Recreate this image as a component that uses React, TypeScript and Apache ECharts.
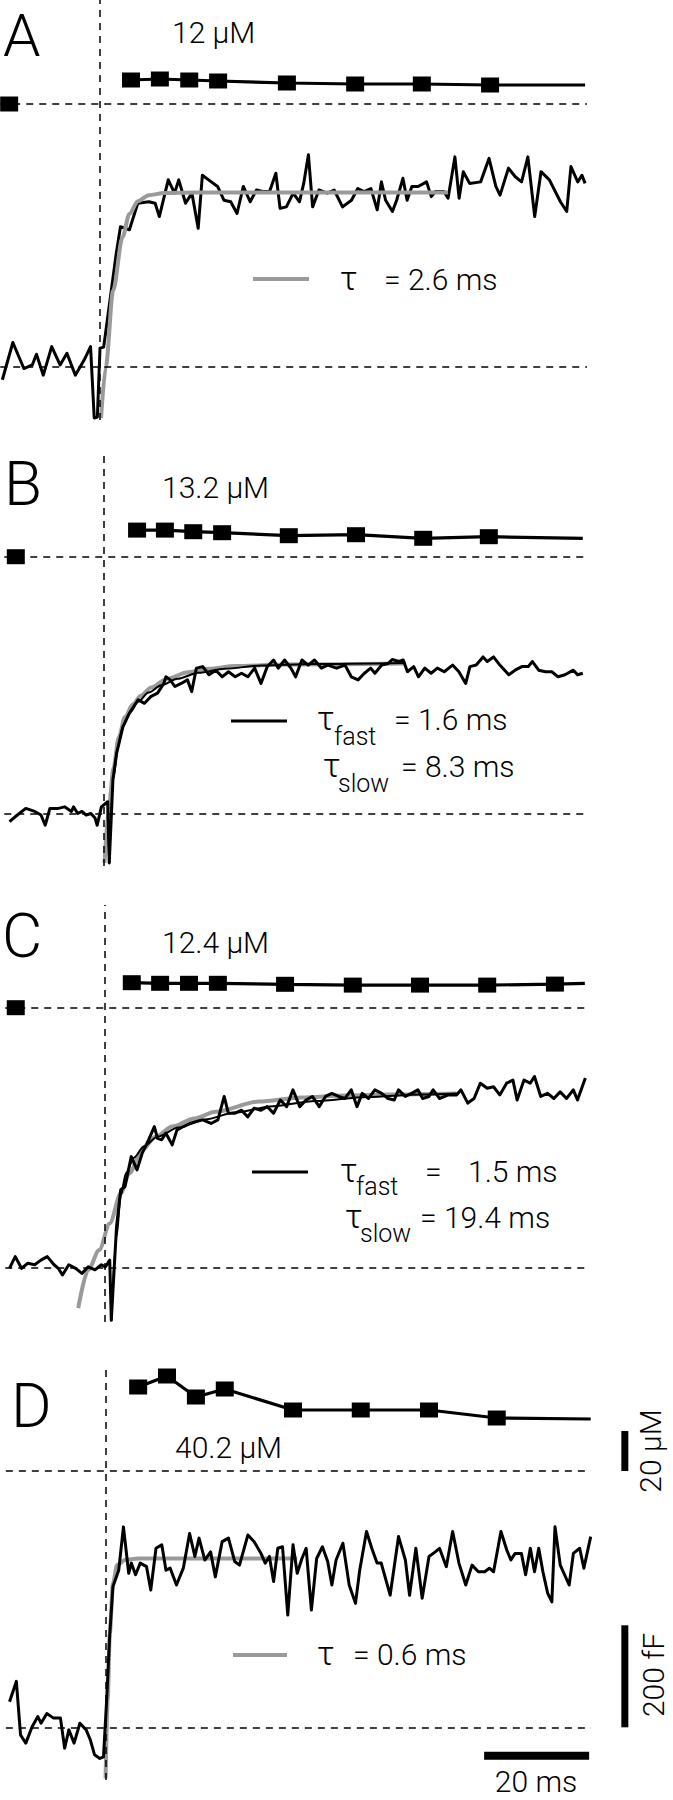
import { useEffect, useRef } from "react";
import * as echarts from "echarts";

const FONT = "Roboto, 'Liberation Sans', Arial, sans-serif";

// ---------- DATA (time in ms from stimulus, Ca in µM, Cm in fF) ----------
// Calcium samples (last entry = end of line, no marker)
const A_CA_T = [5.9, 11.4, 17.0, 22.5, 35.6, 48.6, 61.3, 74.3, 92.4];
const A_CA_V = [12, 12.5, 12, 11.5, 10.5, 10, 10, 9.5, 9.5];
const B_CA_T = [6.3, 11.6, 17.0, 22.5, 35.2, 48.0, 60.8, 73.3, 91.2];
const B_CA_V = [13.3, 13.3, 12.5, 12, 10.5, 11, 9.2, 10, 9.2];
const C_CA_T = [5.1, 10.5, 16.0, 21.5, 34.3, 47.2, 60.0, 72.8, 85.7, 91.4];
const C_CA_V = [12.5, 12.2, 12.2, 12.2, 11.7, 11.3, 11.3, 11.3, 11.8, 12.2];
const D_CA_T = [6.2, 11.7, 17.2, 22.7, 35.7, 48.6, 61.6, 74.5, 92.4];
const D_CA_V = [42, 47.5, 37, 41, 30.5, 30.5, 30.5, 26.5, 26];
// Pre-stimulus calcium sample [t, µM]
const A_CA_PRE = [-17.3, 0];
const B_CA_PRE = [-16.8, 0];
const C_CA_PRE = [-17.0, 0];

// Capacitance traces [t, fF]
const A_CM = [[-18.6,-25],[-16.6,48],[-14.5,-3],[-12.9,4],[-12.1,25],[-10.8,-16],[-9.2,40],[-7.6,4],[-6.3,27],[-4.7,-16],[-3.0,14],[-1.8,40],[-1.1,-100],[-0.5,-98],[0,37],[0.7,39],[1.9,131],[3.1,223],[3.9,275],[5.6,269],[7.2,321],[9.3,324],[10.5,321],[11.3,295],[13.0,367],[14.2,341],[15.0,367],[16.3,321],[17.5,341],[18.7,272],[19.5,376],[21.2,363],[22.4,354],[23.6,327],[24.9,324],[26.1,301],[27.3,354],[28.6,324],[29.8,347],[31.0,344],[32.3,344],[33.5,380],[34.3,311],[35.5,314],[36.8,341],[38.0,324],[38.8,360],[39.7,416],[40.5,314],[41.7,347],[43.3,341],[44.6,347],[46.2,314],[47.9,327],[49.1,350],[50.3,344],[51.6,350],[52.8,308],[53.6,363],[54.4,327],[55.7,305],[56.5,327],[57.7,370],[58.5,327],[59.4,354],[60.6,354],[62.2,363],[63.1,334],[63.9,344],[65.5,344],[66.3,331],[67.6,412],[68.4,331],[69.2,383],[70.4,360],[72.5,363],[74.1,409],[75.4,354],[76.2,337],[77.8,390],[79.1,373],[80.3,363],[81.5,412],[82.8,295],[84.0,383],[85.6,367],[87.7,324],[88.9,305],[89.7,393],[91.0,363],[91.8,376],[92.4,360]];
const B_CM = [[-18.0,-15],[-16.5,-2],[-14.9,11],[-13.2,5],[-12.0,-2],[-11.2,-22],[-10.3,11],[-8.7,11],[-7.5,14],[-6.2,5],[-5.8,14],[-5.0,1],[-4.2,5],[-3.4,-2],[-2.5,1],[-1.7,-8],[-1.3,-22],[-0.5,14],[0.7,24],[1.0,-96],[1.7,67],[2.4,119],[3.6,171],[4.8,197],[6.5,224],[7.7,217],[8.9,230],[10.2,237],[11.4,256],[11.8,269],[12.6,263],[13.5,250],[14.7,256],[15.9,263],[16.7,240],[17.6,286],[18.8,289],[20.0,273],[21.3,282],[22.5,269],[23.7,279],[25.0,269],[26.2,276],[27.4,269],[28.7,286],[29.9,256],[31.1,289],[32.3,302],[33.2,286],[34.4,302],[35.6,286],[36.5,269],[37.7,302],[38.9,292],[40.1,302],[41.4,286],[42.6,292],[44.3,286],[45.9,292],[47.1,269],[48.4,263],[49.6,276],[50.8,286],[51.6,276],[52.9,292],[54.1,295],[54.9,303],[56.2,299],[57.0,302],[57.8,279],[59.0,289],[59.9,269],[61.1,286],[62.3,276],[63.5,286],[64.8,279],[66.4,292],[67.6,279],[68.9,256],[69.7,289],[70.9,292],[72.2,308],[73.0,299],[74.2,308],[75.4,292],[77.1,273],[78.3,282],[79.6,289],[80.8,289],[81.6,299],[82.8,282],[84.1,279],[85.3,279],[86.5,269],[87.8,273],[89.4,282],[90.2,273],[91.2,276]];
const C_CM = [[-18.2,-2],[-17.1,21],[-15.9,-2],[-14.7,8],[-13.4,5],[-12.2,14],[-11.0,21],[-9.7,5],[-8.9,-2],[-8.1,-15],[-6.9,5],[-5.6,-2],[-4.4,-12],[-3.2,1],[-1.9,-5],[-0.7,5],[0.1,1],[0.9,14],[1.2,-104],[2.2,80],[3.0,152],[3.8,158],[5.0,217],[6.1,191],[7.1,224],[8.3,250],[9.4,276],[10.0,253],[10.8,250],[11.6,263],[12.8,240],[13.7,269],[14.9,276],[16.1,282],[17.4,286],[18.6,289],[20.2,282],[21.5,289],[22.7,335],[23.5,302],[24.7,302],[26.0,308],[27.2,295],[28.4,312],[29.7,308],[30.9,315],[32.1,302],[33.4,328],[34.6,315],[35.8,348],[37.1,315],[38.3,328],[39.5,335],[40.8,315],[42.0,335],[43.2,341],[44.5,335],[45.7,331],[46.9,348],[48.0,315],[49.0,341],[50.2,331],[51.4,348],[52.7,341],[53.9,331],[55.1,328],[55.9,348],[57.2,335],[58.4,341],[59.6,348],[60.5,331],[61.7,335],[62.5,348],[63.7,331],[65.4,338],[67.0,338],[67.8,348],[69.1,322],[70.3,331],[71.5,361],[72.8,351],[74.0,354],[75.2,338],[76.5,361],[77.7,367],[78.5,328],[79.8,367],[81.0,361],[81.8,374],[83.0,335],[84.3,341],[85.5,331],[86.7,344],[87.9,331],[89.2,348],[90.0,328],[91.5,371]];
const D_CM = [[-18.3,50],[-17.0,90],[-16.2,-15],[-15.2,-31],[-14.0,1],[-12.9,21],[-12.3,8],[-11.2,27],[-9.9,18],[-8.6,18],[-7.8,-41],[-7.0,-5],[-6.0,-31],[-4.9,8],[-3.7,-5],[-2.9,-25],[-2.1,-54],[-1.1,-61],[-0.4,-58],[0.2,54],[0.8,184],[1.4,276],[2.5,308],[3.4,393],[4.4,302],[4.9,322],[5.7,299],[6.6,322],[7.8,315],[8.6,269],[9.6,351],[10.7,358],[11.5,308],[12.3,312],[13.5,279],[14.8,312],[16.0,380],[17.0,335],[17.8,371],[18.9,328],[20.0,344],[20.9,295],[22.2,364],[23.4,371],[24.6,325],[25.5,318],[27.1,377],[28.3,364],[29.6,341],[30.4,322],[31.2,335],[32.0,286],[32.8,351],[33.7,354],[34.7,220],[35.7,358],[36.5,302],[37.4,331],[38.2,351],[39.2,230],[40.2,331],[41.3,354],[42.3,325],[43.1,279],[43.9,328],[45.2,361],[46.4,279],[47.6,243],[48.4,308],[49.7,384],[50.7,351],[51.7,322],[52.5,322],[54.2,259],[55.8,374],[57.1,328],[57.9,259],[59.1,351],[60.3,253],[61.6,335],[62.8,344],[63.6,351],[64.9,315],[66.1,384],[67.3,322],[68.6,279],[69.8,318],[71.0,305],[72.2,305],[73.1,312],[73.9,305],[75.3,384],[76.4,348],[77.2,328],[78.0,341],[79.2,341],[80.0,299],[80.9,351],[81.7,305],[82.5,351],[83.3,305],[84.2,263],[85.0,246],[85.6,393],[86.6,318],[88.3,279],[89.1,341],[90.3,351],[91.1,312],[92.4,374]];

// Exponential fits [t, fF]
const A_FIT_GRAY = [[0.2,-100],[1.1,0],[2.5,150],[4.3,255],[5.6,300],[7.2,325],[9.3,337],[12.2,341],[18,342],[66.3,342]];
const B_FIT_GRAY = [[0.1,-96],[1.0,20],[1.8,90],[2.8,150],[4,190],[5.5,215],[7,232],[9,248],[12,265],[16,278],[20,285],[25,290],[35,293],[57.4,295]];
const B_FIT_BLACK = [[1.0,-96],[1.8,70],[2.6,130],[3.6,172],[5,200],[6.5,220],[8.5,238],[11,253],[14,265],[18,277],[23,285],[30,291],[40,294],[57.4,296]];
const C_FIT_GRAY = [[-5.1,-80],[-3.2,-5],[-1.1,34],[0.9,86],[3.0,145],[4.6,184],[7.1,230],[9.6,256],[12.8,276],[17.0,292],[21.1,305],[29.3,325],[37.5,333],[45.7,337],[53.9,339],[67.0,341]];
const C_FIT_BLACK = [[1.2,-104],[2.2,60],[3,140],[4,185],[5.5,215],[7.5,238],[10,256],[14,274],[19,290],[25,304],[32,316],[40,326],[50,334],[60,339],[67,341]];
const D_FIT_GRAY = [[0,-100],[0.4,54],[0.8,184],[1.4,282],[2.2,318],[3.7,328],[6.2,331],[36.5,331]];

// Scale bars (drawn in panel D's scales)
const BAR_TIME_MS = [72.1, 92.1];
const BAR_TIME_LEVEL_FF = -56;
const BAR_CM_FF = [0, 200];
const BAR_CA_UM = [0, 20];
const BAR_X_MS = 98.9;

const LABELS = ["A", "B", "C", "D"];
const CONC = ["12 µM", "13.2 µM", "12.4 µM", "40.2 µM"];

// ---------- LAYOUT ----------
const PX_PER_MS = 5.25;
const PX_PER_UM = 2;
const PX_PER_FF = 0.51;
const X_MIN = -19;
const LAYOUT = [
  { xStim: 100, top: 0, bottom: 420, caBase: 104, cmBase: 367, xRight: 587 },
  { xStim: 104, top: 450, bottom: 866, caBase: 556.7, cmBase: 814, xRight: 584 },
  { xStim: 105, top: 905, bottom: 1322, caBase: 1007.7, cmBase: 1267.3, xRight: 586 },
  { xStim: 105.6, top: 1368, bottom: 1780, caBase: 1471, cmBase: 1727.3, xRight: 591 },
  // extra grid sharing panel D's scales, wide enough for the scale bars
  { xStim: 105.6, top: 1368, bottom: 1780, caBase: 1471, cmBase: 1727.3, xRight: 673 },
];

const PANELS = [
  { caT: A_CA_T, caV: A_CA_V, pre: A_CA_PRE, cm: A_CM, gray: A_FIT_GRAY, black: null, grayTop: true },
  { caT: B_CA_T, caV: B_CA_V, pre: B_CA_PRE, cm: B_CM, gray: B_FIT_GRAY, black: B_FIT_BLACK, grayTop: false },
  { caT: C_CA_T, caV: C_CA_V, pre: C_CA_PRE, cm: C_CM, gray: C_FIT_GRAY, black: C_FIT_BLACK, grayTop: false },
  { caT: D_CA_T, caV: D_CA_V, pre: null, cm: D_CM, gray: D_FIT_GRAY, black: null, grayTop: false },
];

const DASH = { type: [7, 6] as any, width: 1.5, color: "#000" };

function txt(x: number, baseline: number, text: string, fs: number, extra: any = {}) {
  const align = extra.align || "left";
  return {
    type: "text",
    x,
    y: baseline - 0.34 * fs,
    silent: true,
    z: 20,
    style: {
      text,
      fill: "#000",
      fontSize: fs,
      fontFamily: FONT,
      fontWeight: extra.weight || 300,
      textAlign: align,
      align,
      textVerticalAlign: "middle",
      verticalAlign: "middle",
    },
  };
}
function rtxt(cx: number, cy: number, text: string, fs: number) {
  return {
    type: "text",
    x: cx,
    y: cy,
    rotation: Math.PI / 2,
    silent: true,
    z: 20,
    style: {
      text,
      fill: "#000",
      fontSize: fs,
      fontFamily: FONT,
      fontWeight: 300,
      textAlign: "center",
      align: "center",
      textVerticalAlign: "middle",
      verticalAlign: "middle",
    },
  };
}
function legLine(x1: number, x2: number, y: number, color: string, w: number) {
  return { type: "line", silent: true, z: 20, shape: { x1, y1: y, x2, y2: y }, style: { stroke: color, lineWidth: w } };
}

export default function App() {
  const ref = useRef<HTMLDivElement>(null);
  useEffect(() => {
    const chart = echarts.init(ref.current!, null, { renderer: "svg" });
    const grid: any[] = [];
    const xAxis: any[] = [];
    const yAxis: any[] = [];
    const series: any[] = [];

    LAYOUT.forEach((L, i) => {
      const left = L.xStim + X_MIN * PX_PER_MS;
      grid.push({ left, top: L.top, width: L.xRight - left, height: L.bottom - L.top, containLabel: false });
      xAxis.push({ type: "value", gridIndex: i, min: X_MIN, max: (L.xRight - L.xStim) / PX_PER_MS, show: false });
      yAxis.push({ type: "value", gridIndex: i, min: (L.caBase - L.bottom) / PX_PER_UM, max: (L.caBase - L.top) / PX_PER_UM, show: false });
      yAxis.push({ type: "value", gridIndex: i, min: (L.cmBase - L.bottom) / PX_PER_FF, max: (L.cmBase - L.top) / PX_PER_FF, show: false });

      const P = PANELS[i];
      if (!P) return;
      const last = P.caT.length - 1;
      series.push({
        type: "line",
        xAxisIndex: i,
        yAxisIndex: 2 * i,
        z: 5,
        symbol: "rect",
        symbolSize: [18, 15],
        showSymbol: true,
        lineStyle: { color: "#000", width: 3.2 },
        itemStyle: { color: "#000", opacity: 1 },
        data: P.caT.map((t, k) => (k === last ? { value: [t, P.caV[k]], symbol: "none" } : [t, P.caV[k]])),
        markLine: {
          silent: true,
          symbol: ["none", "none"],
          label: { show: false },
          lineStyle: DASH,
          data: [{ yAxis: 0 }, { xAxis: 0 }],
        },
      });
      if (P.pre) {
        series.push({
          type: "scatter",
          xAxisIndex: i,
          yAxisIndex: 2 * i,
          z: 6,
          symbol: "rect",
          symbolSize: [18, 15],
          itemStyle: { color: "#000", opacity: 1 },
          data: [P.pre],
        });
      }
      series.push({
        type: "line",
        xAxisIndex: i,
        yAxisIndex: 2 * i + 1,
        z: 3,
        symbol: "none",
        showSymbol: false,
        lineStyle: { color: "#000", width: 3, join: "round" },
        data: P.cm,
        markLine: {
          silent: true,
          symbol: ["none", "none"],
          label: { show: false },
          lineStyle: DASH,
          data: [{ yAxis: 0 }],
        },
      });
      series.push({
        type: "line",
        xAxisIndex: i,
        yAxisIndex: 2 * i + 1,
        z: P.grayTop ? 4 : 2,
        symbol: "none",
        smooth: 0.3,
        smoothMonotone: "x",
        lineStyle: { color: "#9a9a9a", width: 4 },
        data: P.gray,
      });
      if (P.black) {
        series.push({
          type: "line",
          xAxisIndex: i,
          yAxisIndex: 2 * i + 1,
          z: 2.5,
          symbol: "none",
          smooth: 0.3,
          smoothMonotone: "x",
          lineStyle: { color: "#000", width: 2 },
          data: P.black,
        });
      }
    });

    // Scale bars, in the extra grid that uses panel D's scales
    series.push({
      type: "line", xAxisIndex: 4, yAxisIndex: 9, symbol: "none", z: 5,
      lineStyle: { color: "#000", width: 8, cap: "butt" },
      data: [[BAR_TIME_MS[0], BAR_TIME_LEVEL_FF], [BAR_TIME_MS[1], BAR_TIME_LEVEL_FF]],
    });
    series.push({
      type: "line", xAxisIndex: 4, yAxisIndex: 9, symbol: "none", z: 5,
      lineStyle: { color: "#000", width: 7, cap: "butt" },
      data: [[BAR_X_MS, BAR_CM_FF[0]], [BAR_X_MS, BAR_CM_FF[1]]],
    });
    series.push({
      type: "line", xAxisIndex: 4, yAxisIndex: 8, symbol: "none", z: 5,
      lineStyle: { color: "#000", width: 7, cap: "butt" },
      data: [[BAR_X_MS, BAR_CA_UM[0]], [BAR_X_MS, BAR_CA_UM[1]]],
    });

    const graphic: any[] = [
      // Panel letters
      txt(3, 56, LABELS[0], 60),
      txt(4, 505, LABELS[1], 62),
      txt(2, 957, LABELS[2], 62),
      txt(11, 1427, LABELS[3], 62),
      // Concentrations
      txt(172, 43, CONC[0], 30),
      txt(162, 498, CONC[1], 30),
      txt(162, 953, CONC[2], 30),
      txt(175, 1458, CONC[3], 30),
      // Legend A
      legLine(253, 309, 279, "#9a9a9a", 4),
      txt(340, 290, "τ", 34),
      txt(384, 290, "= 2.6 ms", 30),
      // Legend B
      legLine(231, 287, 721, "#000", 3),
      txt(317, 730, "τ", 34),
      txt(334, 745, "fast", 25),
      txt(394, 730, "= 1.6 ms", 30),
      txt(323, 777, "τ", 34),
      txt(338, 792, "slow", 25),
      txt(401, 777, "= 8.3 ms", 30),
      // Legend C
      legLine(252, 308, 1172, "#000", 3),
      txt(340, 1182, "τ", 34),
      txt(356, 1195, "fast", 25),
      txt(425, 1182, "=", 30),
      txt(468, 1182, "1.5 ms", 30),
      txt(345, 1228, "τ", 34),
      txt(360, 1242, "slow", 25),
      txt(420, 1228, "= 19.4 ms", 30),
      // Legend D
      legLine(233, 287, 1655, "#9a9a9a", 4),
      txt(317, 1665, "τ", 34),
      txt(353, 1665, "= 0.6 ms", 30),
      // Scale bar labels
      txt(536, 1792, "20 ms", 30, { align: "center" }),
      rtxt(653, 1675, "200 fF", 30),
      rtxt(650, 1451, "20 µM", 30),
    ];

    chart.setOption({
      animation: false,
      backgroundColor: "#fff",
      grid,
      xAxis,
      yAxis,
      series,
      graphic,
    });
    return () => chart.dispose();
  }, []);
  return (
    <div
      ref={ref}
      style={{ position: "absolute", left: 0, top: 0, width: 673, height: 1800, background: "#fff" }}
    />
  );
}
